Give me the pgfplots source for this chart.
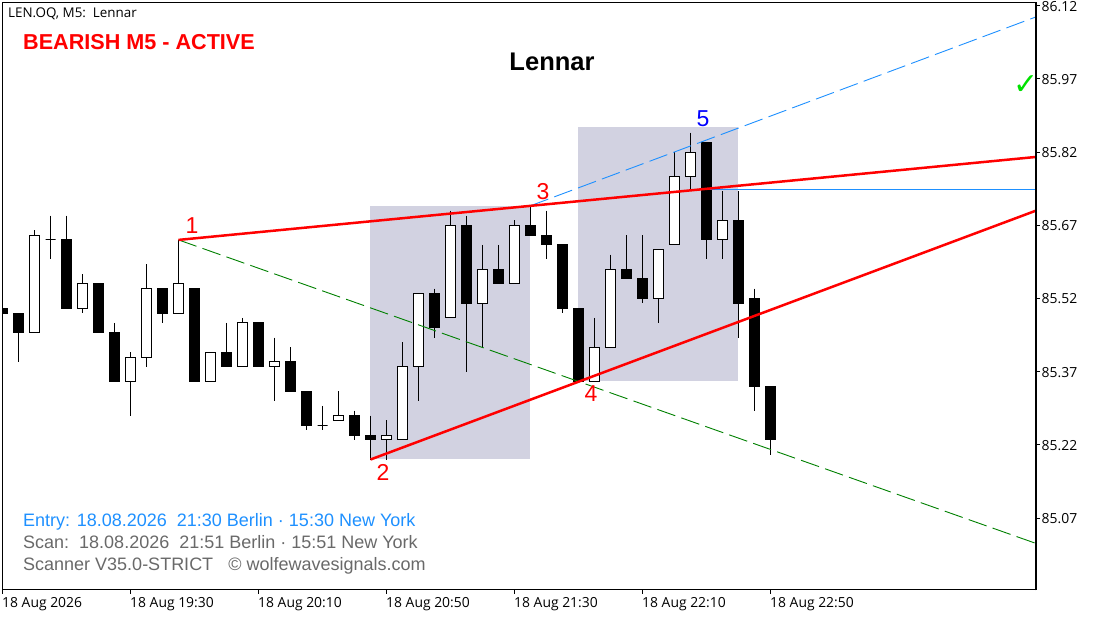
\documentclass[border=0pt]{standalone}
\usepackage{fontspec}
\setmainfont{Liberation Sans}
\newfontfamily\tickfont{Open Sans}
\newfontfamily\symfont{DejaVu Sans}
\usepackage{pgfplots}
\pgfplotsset{compat=1.18}
\definecolor{zone}{RGB}{210,210,225}
\definecolor{dodger}{RGB}{30,144,255}
\definecolor{dimg}{RGB}{105,105,105}
\definecolor{dgreen}{RGB}{0,128,0}
\newcommand{\candle}[5]{% index, open, high, low, close
  \pgfmathsetmacro{\xa}{#1-0.3125}\pgfmathsetmacro{\xb}{#1+0.3125}%
  \pgfmathparse{#5>=#2?1:0}\ifdim\pgfmathresult pt>0.5pt\def\cfill{white}\else\def\cfill{black}\fi
  \addplot[black,line width=1pt,forget plot] coordinates {(#1,#3) (#1,#4)};
  \edef\tmp{\noexpand\addplot[draw=black,fill=\cfill,line width=1pt,forget plot] coordinates {(\xa,#2) (\xb,#2) (\xb,#5) (\xa,#5)} -- cycle;}\tmp
}
\newcommand{\txt}[4][]{\node[inner sep=0pt,#1] at ({#2-2.5pt},{590pt-#3}) {#4};}
\begin{document}
\begin{tikzpicture}[x=1pt,y=1pt]
\useasboundingbox (-2.5,-27) rectangle (1095.5,2.5+587.5);
\begin{axis}[
  at={(0,0)},anchor=south west,
  scale only axis,width=1033.5pt,height=587.5pt,
  xmin=0,xmax=64.594,ymin=84.9226,ymax=86.1265,
  xtick={0,8,16,24,32,40,48},
  xticklabels={18 Aug 2026,18 Aug 19:30,18 Aug 20:10,18 Aug 20:50,18 Aug 21:30,18 Aug 22:10,18 Aug 22:50},
  ytick={85.07,85.22,85.37,85.52,85.67,85.82,85.97,86.12},
  yticklabels={85.07,85.22,85.37,85.52,85.67,85.82,85.97,86.12},
  tick pos=both,xtick pos=bottom,ytick pos=right,
  tick align=outside,
  major tick length=4pt,
  tick style={black,line width=1pt},
  axis line style={black,line width=1pt},
  xticklabel style={font=\tickfont\fontsize{13.9}{15}\selectfont,anchor=north west,inner sep=0pt,xshift=-0.5pt,yshift=-3pt},
  yticklabel style={font=\tickfont\fontsize{13.9}{15}\selectfont,anchor=west,inner sep=0pt,xshift=1.5pt,yshift=-0.6pt},
]
% pattern zones
\addplot[draw=none,fill=zone,forget plot] coordinates {(22.97,85.192) (32.97,85.192) (32.97,85.71) (22.97,85.71)} -- cycle;
\addplot[draw=none,fill=zone,forget plot] coordinates {(35.97,85.351) (45.97,85.351) (45.97,85.871) (35.97,85.871)} -- cycle;
% candles: index, open, high, low, close
\candle{0}{85.50}{85.50}{85.49}{85.49}
\candle{1}{85.49}{85.49}{85.39}{85.45}
\candle{2}{85.45}{85.66}{85.45}{85.65}
\candle{3}{85.64}{85.69}{85.60}{85.64}
\candle{4}{85.64}{85.69}{85.50}{85.50}
\candle{5}{85.50}{85.57}{85.49}{85.55}
\candle{6}{85.55}{85.55}{85.45}{85.45}
\candle{7}{85.45}{85.47}{85.35}{85.35}
\candle{8}{85.35}{85.41}{85.28}{85.40}
\candle{9}{85.40}{85.59}{85.38}{85.54}
\candle{10}{85.54}{85.54}{85.47}{85.49}
\candle{11}{85.49}{85.64}{85.49}{85.55}
\candle{12}{85.54}{85.54}{85.35}{85.35}
\candle{13}{85.35}{85.41}{85.35}{85.41}
\candle{14}{85.41}{85.47}{85.38}{85.38}
\candle{15}{85.38}{85.48}{85.38}{85.47}
\candle{16}{85.47}{85.47}{85.38}{85.38}
\candle{17}{85.38}{85.44}{85.31}{85.39}
\candle{18}{85.39}{85.42}{85.33}{85.33}
\candle{19}{85.33}{85.33}{85.25}{85.26}
\candle{20}{85.26}{85.30}{85.25}{85.26}
\candle{21}{85.27}{85.33}{85.27}{85.28}
\candle{22}{85.28}{85.29}{85.23}{85.24}
\candle{23}{85.24}{85.28}{85.19}{85.23}
\candle{24}{85.23}{85.27}{85.19}{85.24}
\candle{25}{85.23}{85.43}{85.23}{85.38}
\candle{26}{85.38}{85.53}{85.31}{85.53}
\candle{27}{85.53}{85.54}{85.44}{85.46}
\candle{28}{85.48}{85.70}{85.48}{85.67}
\candle{29}{85.67}{85.69}{85.37}{85.51}
\candle{30}{85.51}{85.63}{85.42}{85.58}
\candle{31}{85.58}{85.63}{85.55}{85.55}
\candle{32}{85.55}{85.68}{85.55}{85.67}
\candle{33}{85.67}{85.71}{85.65}{85.65}
\candle{34}{85.65}{85.70}{85.60}{85.63}
\candle{35}{85.63}{85.63}{85.49}{85.50}
\candle{36}{85.50}{85.50}{85.35}{85.35}
\candle{37}{85.35}{85.48}{85.35}{85.42}
\candle{38}{85.42}{85.61}{85.42}{85.58}
\candle{39}{85.58}{85.65}{85.56}{85.56}
\candle{40}{85.56}{85.65}{85.51}{85.52}
\candle{41}{85.52}{85.62}{85.47}{85.62}
\candle{42}{85.63}{85.82}{85.63}{85.77}
\candle{43}{85.77}{85.86}{85.74}{85.82}
\candle{44}{85.84}{85.84}{85.60}{85.64}
\candle{45}{85.64}{85.74}{85.60}{85.68}
\candle{46}{85.68}{85.74}{85.44}{85.51}
\candle{47}{85.52}{85.54}{85.29}{85.34}
\candle{48}{85.34}{85.34}{85.20}{85.23}
% wave lines
\addplot[dgreen,line width=0.9pt,dash pattern=on 19pt off 6.4pt,forget plot] coordinates {(11,85.64) (64.594,85.018)};
\addplot[dodger,line width=0.9pt,dash pattern=on 19pt off 6.4pt,forget plot] coordinates {(33,85.71) (64.594,86.097)};
\addplot[dodger,line width=0.9pt,forget plot] coordinates {(44,85.743) (64.594,85.743)};
\addplot[red,line width=2.5pt,forget plot] coordinates {(11,85.64) (64.594,85.81)};
\addplot[red,line width=2.5pt,forget plot] coordinates {(23,85.19) (64.594,85.70)};
\end{axis}
\draw[black,line width=2.4pt] (1033.5,-0.5) -- (1033.5,588);
\txt[anchor=base west]{8pt}{17.7pt}{\tickfont\fontsize{13.4}{15}\selectfont LEN.OQ, M5:\ \ Lennar}
\txt[anchor=base west]{23pt}{49.3pt}{\fontsize{21.6}{24}\selectfont\bfseries\color{red}BEARISH M5 - ACTIVE}
\txt{552pt}{62pt}{\fontsize{25.5}{28}\selectfont\bfseries Lennar}
\txt[anchor=base west]{23pt}{527pt}{\fontsize{18}{20}\selectfont\color{dodger}Entry: 18.08.2026\ \ 21:30 Berlin · 15:30 New York}
\txt[anchor=base west]{23pt}{549pt}{\fontsize{18}{20}\selectfont\color{dimg}Scan:\ \ 18.08.2026\ \ 21:51 Berlin · 15:51 New York}
\txt[anchor=base west]{23pt}{571pt}{\fontsize{18}{20}\selectfont\color{dimg}Scanner V35.0-STRICT\ \ \ © wolfewavesignals.com}
\txt{192pt}{226pt}{\fontsize{23}{25}\selectfont\color{red}1}
\txt{383pt}{472pt}{\fontsize{23}{25}\selectfont\color{red}2}
\txt{543pt}{192pt}{\fontsize{23}{25}\selectfont\color{red}3}
\txt{591pt}{394pt}{\fontsize{23}{25}\selectfont\color{red}4}
\txt{703pt}{119pt}{\fontsize{23}{25}\selectfont\color{blue}5}
\txt{1026pt}{85pt}{\symfont\fontsize{30}{32}\selectfont\color[RGB]{0,225,0}✓}
\end{tikzpicture}
\end{document}
